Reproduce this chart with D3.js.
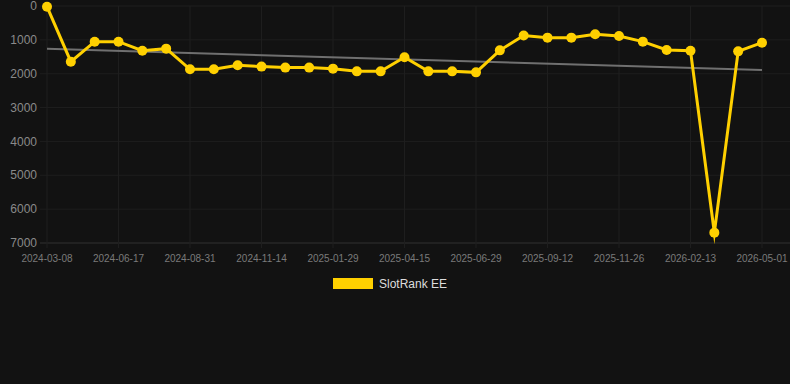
<!DOCTYPE html>
<html>
<head>
<meta charset="utf-8">
<script src="https://cdn.jsdelivr.net/npm/d3@7"></script>
<style>
  body { margin: 0; background: #121212; }
  svg { display: block; font-family: "Liberation Sans", Arial, sans-serif; }
</style>
</head>
<body>
<div class="chart"></div>
<script>
var svgWidth = 790;
var svgHeight = 384;

// dates of each sample (category axis, label shown for every 3rd)
var dates = [
  '2024-03-08', '2024-04-28', '2024-05-23', '2024-06-17', '2024-07-12', '2024-08-06',
  '2024-08-31', '2024-09-25', '2024-10-20', '2024-11-14', '2024-12-09', '2025-01-03',
  '2025-01-29', '2025-02-23', '2025-03-20', '2025-04-15', '2025-05-10', '2025-06-04',
  '2025-06-29', '2025-07-24', '2025-08-18', '2025-09-12', '2025-10-07', '2025-11-01',
  '2025-11-26', '2025-12-22', '2026-01-17', '2026-02-13', '2026-03-10', '2026-04-05',
  '2026-05-01'
];

var ranks = [
  20, 1645, 1054, 1054, 1320, 1260, 1870, 1870, 1752, 1790, 1820,
  1820, 1850, 1930, 1930, 1516, 1930, 1930, 1960, 1310, 870,
  935, 935, 837, 886, 1053, 1300, 1320, 6694, 1340, 1083
];

var yTicks = [0, 1000, 2000, 3000, 4000, 5000, 6000, 7000];
var seriesName = 'SlotRank EE';

var margin = {top: 6, right: 28, bottom: 141, left: 47};
var width = svgWidth - margin.left - margin.right;
var height = svgHeight - margin.top - margin.bottom;

var svg = d3
  .select('.chart')
  .append('svg')
  .attr('width', svgWidth)
  .attr('height', svgHeight);

var chart = svg.append('g')
  .attr('transform', 'translate(' + margin.left + ',' + margin.top + ')');

var xScale = d3.scalePoint().domain(dates).range([0, 715]);
var yScale = d3.scaleLinear().domain([0, 7000]).range([0, height]);

// horizontal grid
chart.append('g')
  .selectAll('line')
  .data(yTicks)
  .enter()
  .append('line')
  .attr('x1', -7)
  .attr('x2', width + margin.right)
  .attr('y1', function(d) { return yScale(d); })
  .attr('y2', function(d) { return yScale(d); })
  .attr('stroke', function(d) { return d === 7000 ? '#303030' : '#1e1e1e'; })
  .attr('stroke-width', 1);

// vertical grid at labelled dates
var labelDates = dates.filter(function(d, i) { return i % 3 === 0; });
chart.append('g')
  .selectAll('line')
  .data(labelDates)
  .enter()
  .append('line')
  .attr('x1', function(d) { return xScale(d); })
  .attr('x2', function(d) { return xScale(d); })
  .attr('y1', 0)
  .attr('y2', height + 5)
  .attr('stroke', '#1e1e1e')
  .attr('stroke-width', 1);

// y labels
chart.append('g')
  .selectAll('text')
  .data(yTicks)
  .enter()
  .append('text')
  .attr('x', -10)
  .attr('y', function(d) { return yScale(d); })
  .attr('dy', '0.35em')
  .attr('text-anchor', 'end')
  .attr('font-size', 12)
  .attr('fill', '#8a8a8a')
  .text(function(d) { return d; });

// x labels
chart.append('g')
  .selectAll('text')
  .data(labelDates)
  .enter()
  .append('text')
  .attr('x', function(d) { return xScale(d); })
  .attr('y', height + 19)
  .attr('text-anchor', 'middle')
  .attr('font-size', 10)
  .attr('fill', '#7a7a7a')
  .text(function(d) { return d; });

// trend line (least squares over index)
var n = ranks.length;
var mx = d3.mean(ranks, function(d, i) { return i; });
var my = d3.mean(ranks);
var sxy = d3.sum(ranks, function(d, i) { return (i - mx) * (d - my); });
var sxx = d3.sum(ranks, function(d, i) { return (i - mx) * (i - mx); });
var slope = sxy / sxx;
var icpt = my - slope * mx;

chart.append('line')
  .attr('x1', xScale(dates[0]))
  .attr('x2', xScale(dates[n - 1]))
  .attr('y1', yScale(icpt))
  .attr('y2', yScale(icpt + slope * (n - 1)))
  .attr('stroke', '#707070')
  .attr('stroke-width', 2);

// main line
var line = d3.line()
  .x(function(d, i) { return xScale(dates[i]); })
  .y(function(d) { return yScale(d); });

chart.append('path')
  .datum(ranks)
  .attr('d', line)
  .attr('fill', 'none')
  .attr('stroke', '#ffd000')
  .attr('stroke-width', 3)
  .attr('stroke-linejoin', 'miter')
  .attr('stroke-miterlimit', 10);

chart
  .selectAll('circle')
  .data(ranks)
  .enter()
  .append('circle')
  .attr('cx', function(d, i) { return xScale(dates[i]); })
  .attr('cy', function(d) { return yScale(d); })
  .attr('r', 5)
  .attr('fill', '#ffd000');

// legend
var legend = svg.append('g');
legend.append('rect')
  .attr('x', 333)
  .attr('y', 278)
  .attr('width', 40)
  .attr('height', 11)
  .attr('fill', '#ffd000');
legend.append('text')
  .attr('x', 379)
  .attr('y', 288)
  .attr('font-size', 12)
  .attr('fill', '#dddddd')
  .text(seriesName);
</script>
</body>
</html>
